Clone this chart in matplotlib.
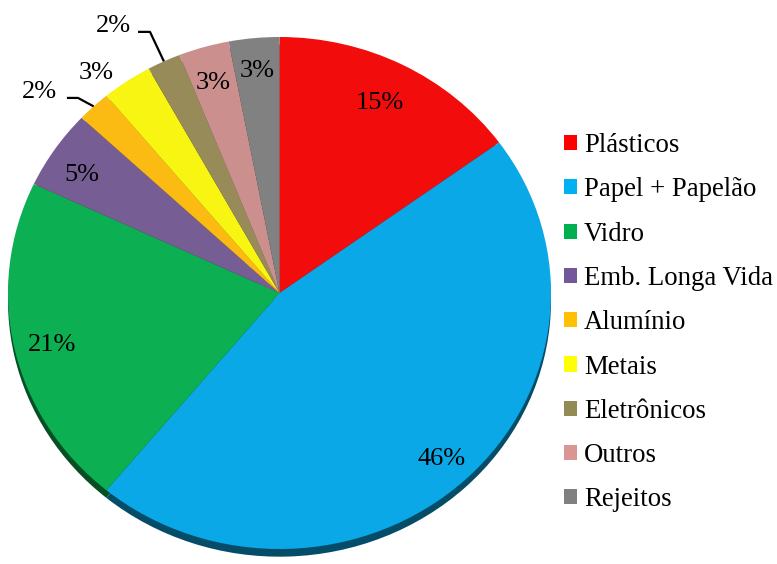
import numpy as np
import matplotlib
matplotlib.use("Agg")
import matplotlib.pyplot as plt
from matplotlib.patches import Patch
from matplotlib.colors import to_rgb

categories = ["Plásticos", "Papel + Papelão", "Vidro", "Emb. Longa Vida", "Alumínio",
              "Metais", "Eletrônicos", "Outros", "Rejeitos"]
values = [15, 46, 21, 5, 2, 3, 2, 3, 3]
labels = ["15%", "46%", "21%", "5%", "2%", "3%", "2%", "3%", "3%"]

pie_colors = ["#F20C0C", "#0AA8E6", "#0CAF52", "#765D94", "#FBBB12",
              "#F8F512", "#978B5A", "#CB8F8E", "#818181"]
legend_colors = ["#FF0000", "#00B0F0", "#00B050", "#72589A", "#FFC000",
                 "#FFFF00", "#948A54", "#D99694", "#808080"]

FAM = 'Liberation Serif'

fig = plt.figure(figsize=(7.77, 5.64), dpi=100)
W, H = 777, 564
left, right, top, bottom = 8, 551, 37, 549
ax = fig.add_axes([left / W, (H - bottom) / H, (right - left) / W, (bottom - top) / H])

# shadow / depth
dark = [tuple(c * 0.45 for c in to_rgb(col)) for col in pie_colors]
ax.pie(values, colors=dark, startangle=90, counterclock=False, radius=1,
       center=(0, -0.03), wedgeprops=dict(linewidth=0), frame=True)
wedges, _ = ax.pie(values, colors=pie_colors, startangle=90, counterclock=False, radius=1,
                   wedgeprops=dict(linewidth=0), frame=True)
ax.set_xlim(-1, 1)
ax.set_ylim(-1, 1)
ax.set_aspect('auto')
ax.axis('off')

label_r = [0.84, 0.87, 0.86, 0.87, 1.19, 1.105, 1.22, 0.87, 0.885]
label_da = [1, 0, 0, 1, 4.7, 3.5, 4.8, 0, 0]
fs = 19
for i, w in enumerate(wedges):
    mid = np.deg2rad((w.theta1 + w.theta2) / 2 + label_da[i])
    x, y = label_r[i] * np.cos(mid), label_r[i] * np.sin(mid)
    fx, fy = fig.transFigure.inverted().transform(ax.transData.transform((x, y)))
    fig.text(fx, fy - 3.5 / H, labels[i], ha='center', va='center', fontsize=fs,
             color='black', family=FAM)

# leader lines: (elbow x, elbow y, start x) in axes data units
leaders = {4: (-0.742, 0.762, -0.783), 6: (-0.477, 1.02, -0.521)}
for i, (ex, ey, sx) in leaders.items():
    w = wedges[i]
    mid = np.deg2rad((w.theta1 + w.theta2) / 2)
    px, py = np.cos(mid), np.sin(mid)
    ax.plot([sx, ex, px], [ey, ey, py], color='black', lw=1.6, solid_capstyle='butt',
            clip_on=False)

handles = [Patch(facecolor=c, edgecolor='none') for c in legend_colors]
leg = fig.legend(handles, categories, loc='upper left', bbox_to_anchor=(564 / W, 1 - 133 / H),
                 frameon=False, prop=dict(family=FAM, size=19.3), handlelength=0.49,
                 handleheight=0.49, handletextpad=0.26, labelspacing=0.72,
                 borderaxespad=0, borderpad=0)

fig.savefig("out.png", dpi=100)
